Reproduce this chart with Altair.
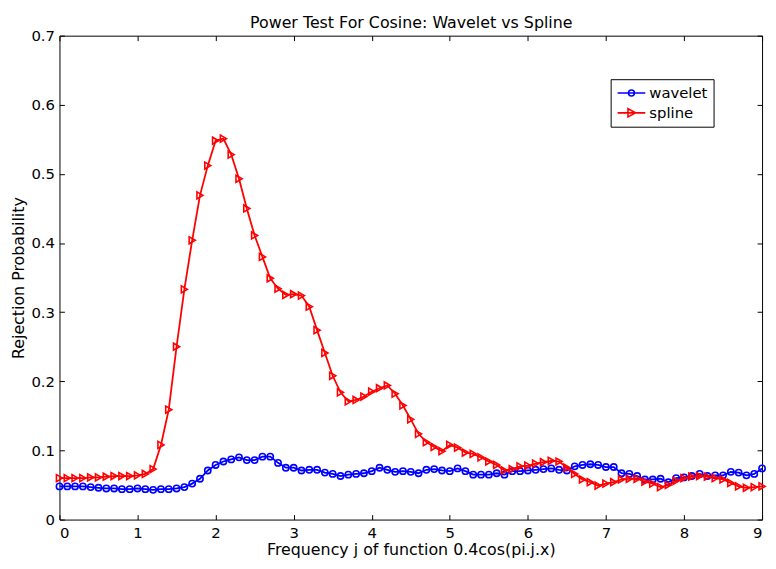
import altair as alt
import pandas as pd

# ---------------- data ----------------
freq = [0.0, 0.1, 0.2, 0.3, 0.4, 0.5, 0.6, 0.7, 0.8, 0.9,
        1.0, 1.1, 1.2, 1.3, 1.4, 1.5, 1.6, 1.7, 1.8, 1.9,
        2.0, 2.1, 2.2, 2.3, 2.4, 2.5, 2.6, 2.7, 2.8, 2.9,
        3.0, 3.1, 3.2, 3.3, 3.4, 3.5, 3.6, 3.7, 3.8, 3.9,
        4.0, 4.1, 4.2, 4.3, 4.4, 4.5, 4.6, 4.7, 4.8, 4.9,
        5.0, 5.1, 5.2, 5.3, 5.4, 5.5, 5.6, 5.7, 5.8, 5.9,
        6.0, 6.1, 6.2, 6.3, 6.4, 6.5, 6.6, 6.7, 6.8, 6.9,
        7.0, 7.1, 7.2, 7.3, 7.4, 7.5, 7.6, 7.7, 7.8, 7.9,
        8.0, 8.1, 8.2, 8.3, 8.4, 8.5, 8.6, 8.7, 8.8, 8.9,
        9.0]

wavelet = [0.048, 0.048, 0.048, 0.048, 0.047, 0.046, 0.045, 0.045, 0.044, 0.044,
           0.045, 0.044, 0.043, 0.044, 0.044, 0.045, 0.047, 0.052, 0.059, 0.071,
           0.079, 0.084, 0.087, 0.090, 0.086, 0.086, 0.091, 0.091, 0.082, 0.075,
           0.075, 0.071, 0.072, 0.072, 0.068, 0.066, 0.063, 0.065, 0.066, 0.067,
           0.070, 0.075, 0.072, 0.069, 0.070, 0.069, 0.067, 0.072, 0.073, 0.071,
           0.070, 0.074, 0.070, 0.065, 0.065, 0.065, 0.067, 0.065, 0.070, 0.070,
           0.071, 0.072, 0.073, 0.074, 0.072, 0.071, 0.077, 0.079, 0.080, 0.079,
           0.076, 0.076, 0.067, 0.066, 0.063, 0.058, 0.058, 0.059, 0.054, 0.060,
           0.061, 0.063, 0.066, 0.063, 0.064, 0.064, 0.069, 0.068, 0.064, 0.066,
           0.074]

spline = [0.060, 0.060, 0.060, 0.060, 0.061, 0.061, 0.062, 0.063, 0.063, 0.063,
          0.064, 0.066, 0.073, 0.108, 0.159, 0.250, 0.333, 0.404, 0.469, 0.512,
          0.548, 0.551, 0.528, 0.493, 0.450, 0.411, 0.380, 0.349, 0.334, 0.325,
          0.326, 0.324, 0.308, 0.274, 0.241, 0.208, 0.184, 0.171, 0.173, 0.178,
          0.185, 0.190, 0.194, 0.182, 0.165, 0.145, 0.124, 0.112, 0.105, 0.099,
          0.108, 0.104, 0.097, 0.095, 0.090, 0.084, 0.079, 0.071, 0.073, 0.077,
          0.078, 0.081, 0.083, 0.085, 0.084, 0.075, 0.066, 0.058, 0.054, 0.049,
          0.052, 0.054, 0.058, 0.059, 0.059, 0.055, 0.052, 0.047, 0.050, 0.056,
          0.060, 0.062, 0.063, 0.062, 0.060, 0.058, 0.053, 0.048, 0.046, 0.047,
          0.048]

series_names = ["wavelet", "spline"]
series_colors = ["#0000ff", "#ff0000"]
x_ticks = [0, 1, 2, 3, 4, 5, 6, 7, 8, 9]
y_ticks = [0, 0.1, 0.2, 0.3, 0.4, 0.5, 0.6, 0.7]

chart_title = "Power Test For Cosine: Wavelet vs Spline"
x_title = "Frequency j of function 0.4cos(pi.j.x)"
y_title = "Rejection Probability"

df = pd.DataFrame({"j": freq, "wavelet": wavelet, "spline": spline})
leg_df = pd.DataFrame({"series": series_names})

FONT = "DejaVu Sans"
W, H = 710, 489

xs = alt.Scale(domain=[0, 9], nice=False, zero=False)
ys = alt.Scale(domain=[0, 0.7], nice=False, zero=False)

x_axis = alt.Axis(values=x_ticks, format="d", offset=-5, domain=False,
                  tickSize=5, labelPadding=6, titlePadding=1, grid=False)
y_axis = alt.Axis(values=y_ticks, format=".1~f", offset=-5, domain=False,
                  tickSize=5, labelPadding=5, titlePadding=4, grid=False)

X = alt.X("j:Q", scale=xs, axis=x_axis, title=x_title)


def Y(field):
    return alt.Y(field + ":Q", scale=ys, axis=y_axis, title=y_title)


wav_line = alt.Chart(df).mark_line(color=series_colors[0], strokeWidth=1.8).encode(x=X, y=Y("wavelet"))
wav_pts = alt.Chart(df).mark_point(shape="circle", filled=False, color=series_colors[0],
                                   size=40, strokeWidth=1.6, opacity=1).encode(x=X, y=Y("wavelet"))
spl_line = alt.Chart(df).mark_line(color=series_colors[1], strokeWidth=1.8).encode(x=X, y=Y("spline"))
spl_pts = alt.Chart(df).mark_point(shape="triangle-right", filled=False, color=series_colors[1],
                                   size=50, strokeWidth=1.6, opacity=1).encode(x=X, y=Y("spline"))

circle_sym = "M-1,0 L3,0 M1.43,0 A0.43,0.43 0 1,1 0.57,0 A0.43,0.43 0 1,1 1.43,0"
tri_sym = "M-1,0 L3,0 M0.5,-0.6 L1.6,0 L0.5,0.6 Z"

leg = alt.Legend(orient="none", legendX=557, legendY=44, title=None,
                 strokeColor="black", fillColor="white", padding=6,
                 labelFont=FONT, labelFontSize=15, labelColor="black",
                 labelOffset=17, symbolOffset=0, symbolSize=196, symbolStrokeWidth=1.6,
                 rowPadding=4, cornerRadius=0)

legend_layer = alt.Chart(leg_df).mark_point(filled=False, opacity=1).encode(
    color=alt.Color("series:N", scale=alt.Scale(domain=series_names, range=series_colors), legend=leg),
    shape=alt.Shape("series:N", scale=alt.Scale(domain=series_names, range=[circle_sym, tri_sym]), legend=leg),
).transform_filter("false")

main = alt.layer(wav_line, wav_pts, spl_line, spl_pts, legend_layer)

tick_layer = alt.Chart(df).mark_point(opacity=0).encode(
    x=alt.X("j:Q", scale=xs, title=chart_title,
            axis=alt.Axis(orient="top", values=x_ticks, labels=False, domain=False,
                          tickSize=5, offset=-5, grid=False,
                          titlePadding=8, titleBaseline="alphabetic")),
    y=alt.Y("wavelet:Q", scale=ys, title=None,
            axis=alt.Axis(orient="right", values=y_ticks, labels=False, domain=False,
                          tickSize=5, offset=-5, grid=False)),
)

chart = alt.layer(main, tick_layer).resolve_scale(
    x="independent", y="independent"
).properties(
    width=W, height=H,
    padding={"left": 52, "top": 25, "right": 6, "bottom": 47},
    autosize=alt.AutoSizeParams(type="none"),
    background="white",
).configure_view(
    stroke="black", strokeWidth=1
).configure_axis(
    labelFont=FONT, labelFontSize=15, labelColor="black",
    titleFont=FONT, titleFontSize=16, titleFontWeight="normal", titleColor="black",
    tickColor="black", tickWidth=1
)

chart.save("out.html", embed_options={"renderer": "svg", "actions": False})
